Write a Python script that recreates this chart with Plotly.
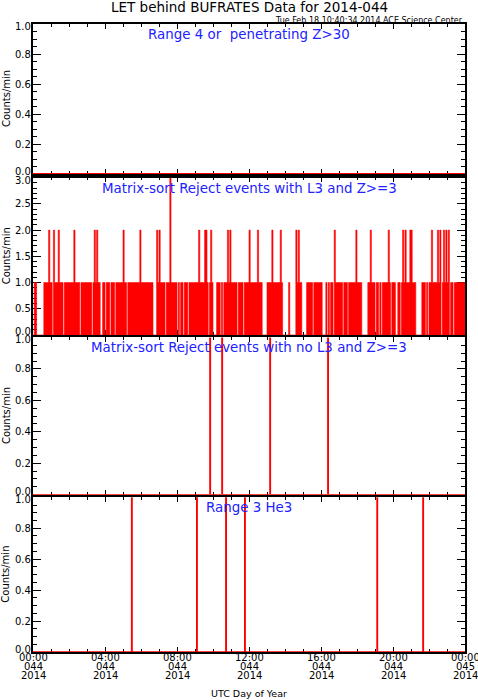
import plotly.graph_objects as go

# minutes since 00:00 UTC, day 044 of 2014
tick_minutes = [0, 240, 480, 720, 960, 1200, 1440]
tick_hhmm = ["00:00", "04:00", "08:00", "12:00", "16:00", "20:00", "00:00"]
tick_doy = ["044", "044", "044", "044", "044", "044", "045"]
tick_year = ["2014"] * 7

ytick_unit = [0.0, 0.2, 0.4, 0.6, 0.8, 1.0]
ytick_matrix = [0.0, 0.5, 1.0, 1.5, 2.0, 2.5, 3.0]

panel_titles = ["Range 4 or  penetrating Z>30",
                "Matrix-sort Reject events with L3 and Z>=3",
                "Matrix-sort Reject events with no L3 and Z>=3",
                "Range 3 He3"]

# panel 1: no counts all day
range4_minutes = [0, 1440]
range4_counts = [0, 0]

# panel 2: counts/min in 4 minute bins, 2 hours per row
matrix_l3_bins = (
    "011000000111121102111211101111"
    "111121111011111111101212110011"
    "011101110111111211011111111112"
    "111111111100021211110111311111"
    "010110111011111111211112210121"
    "000111010111212111110111101111"
    "211111121110000111121111112100"
    "000100000212110000111110111111"
    "100010101102111111011101111112"
    "111100000112111011010111112101"
    "110011012121112211100000111010"
    "112111121201212120110111111111"
)
bin_width = 4

# panel 3 and 4: minutes with a single count
matrix_nol3_events = [590, 630, 790, 983]
range3_he3_events = [329, 546, 643, 706, 1147, 1300]


def step_from_events(events):
    xs, ys = [0], [0]
    for m in events:
        xs += [m, m + 1]
        ys += [1, 0]
    xs.append(1440)
    ys.append(0)
    return xs, ys


l3_counts = [int(c) for c in matrix_l3_bins]
l3_x = [i * bin_width for i in range(len(l3_counts))] + [1440]
l3_y = l3_counts + [l3_counts[-1]]

nol3_x, nol3_y = step_from_events(matrix_nol3_events)
he3_x, he3_y = step_from_events(range3_he3_events)

red = "#ff0000"
blue = "#2222ff"
font = "DejaVu Sans"

fig = go.Figure()
fig.add_trace(go.Scatter(x=range4_minutes, y=range4_counts, mode="lines",
                         line=dict(color=red, width=2), xaxis="x", yaxis="y"))
fig.add_trace(go.Scatter(x=l3_x, y=l3_y, mode="lines", line_shape="hv",
                         line=dict(color=red, width=0.6), fill="tozeroy",
                         fillcolor=red, xaxis="x2", yaxis="y2"))
fig.add_trace(go.Scatter(x=nol3_x, y=nol3_y, mode="lines", line_shape="hv",
                         line=dict(color=red, width=1.6), xaxis="x3", yaxis="y3"))
fig.add_trace(go.Scatter(x=he3_x, y=he3_y, mode="lines", line_shape="hv",
                         line=dict(color=red, width=1.6), xaxis="x4", yaxis="y4"))

domains = [[0.7611, 1.0], [0.5048, 0.7553], [0.2505, 0.5008], [0.0, 0.2463]]
yticks = [ytick_unit, ytick_matrix, ytick_unit, ytick_unit]
yminor = [0.05, 0.1, 0.05, 0.05]

layout = dict(
    width=478, height=700,
    margin=dict(l=33, r=13, t=24, b=48, autoexpand=False),
    paper_bgcolor="white", plot_bgcolor="white",
    showlegend=False,
    font=dict(family=font, size=10, color="black"),
    annotations=[],
)

for i in range(4):
    n = "" if i == 0 else str(i + 1)
    layout["xaxis" + n] = dict(
        domain=[0, 1], anchor="y" + n, range=[0, 1440],
        tickvals=tick_minutes, showticklabels=False, automargin=False,
        ticks="inside", ticklen=5, tickwidth=1.2, tickcolor="black",
        minor=dict(dtick=60, tick0=0, ticks="inside", ticklen=3, tickcolor="black"),
        showline=True, linecolor="black", linewidth=1.5, mirror="ticks",
        showgrid=False, zeroline=False, layer="below traces",
    )
    layout["yaxis" + n] = dict(
        domain=domains[i], anchor="x" + n,
        range=[yticks[i][0], yticks[i][-1]],
        tickvals=yticks[i], showticklabels=False, automargin=False,
        ticks="inside", ticklen=8, tickwidth=1.2, tickcolor="black",
        minor=dict(dtick=yminor[i], tick0=0, ticks="inside", ticklen=4, tickcolor="black"),
        showline=True, linecolor="black", linewidth=1.5, mirror="ticks",
        showgrid=False, zeroline=False, layer="below traces",
    )
    # tick labels, end ones pulled inside the panel like the original
    for k, v in enumerate(yticks[i]):
        anchor, shift = "middle", 0
        if k == 0:
            anchor, shift = "bottom", -3.5
        elif k == len(yticks[i]) - 1:
            anchor, shift = "top", 4
        layout["annotations"].append(dict(
            text="%.1f" % v, xref="x" + n + " domain", yref="y" + n, x=0, y=v,
            xanchor="right", yanchor=anchor, xshift=-1, yshift=shift,
            showarrow=False, borderpad=0, font=dict(size=10, family=font)))
    layout["annotations"].append(dict(
        text="Counts/min", xref="paper", yref="paper", x=0,
        y=(domains[i][0] + domains[i][1]) / 2, xshift=-27, textangle=-90,
        xanchor="center", yanchor="middle", showarrow=False,
        font=dict(size=10, family=font)))
    layout["annotations"].append(dict(
        text=panel_titles[i], xref="paper", yref="paper", x=0.5, y=domains[i][1],
        yshift=-1, xanchor="center", yanchor="top", showarrow=False,
        font=dict(size=13.4, color=blue, family=font)))

# three-line time labels under the bottom panel
for v, a, b, c in zip(tick_minutes, tick_hhmm, tick_doy, tick_year):
    for k, t in enumerate([a, b, c]):
        layout["annotations"].append(dict(
            text=t, xref="x4", yref="y4 domain", x=v, y=0, yshift=1 - 9 * k,
            xanchor="center", yanchor="top", showarrow=False, borderpad=0,
            font=dict(size=10, family=font)))

layout["annotations"].append(dict(
    text="UTC Day of Year", xref="paper", yref="paper", x=0.5, y=0,
    yshift=-34, xanchor="center", yanchor="top", showarrow=False,
    font=dict(size=9.5, family=font)))
layout["annotations"].append(dict(
    text="LET behind BUFRATES Data for 2014-044", xref="paper", yref="paper",
    x=0.5, y=1, yshift=17, xanchor="center", yanchor="middle", showarrow=False,
    font=dict(size=13.5, family=font)))
layout["annotations"].append(dict(
    text="Tue Feb 18 10:40:34 2014 ACE Science Center", xref="paper", yref="paper",
    x=1, y=1, yshift=4, xanchor="right", yanchor="middle", showarrow=False,
    font=dict(size=8, family=font)))

fig.update_layout(**layout)
# page body has a default 8px margin; drop it so the figure sits at 0,0
fig.write_html("out.html", config={"displayModeBar": False},
               post_script="document.body.style.margin='0px';")
